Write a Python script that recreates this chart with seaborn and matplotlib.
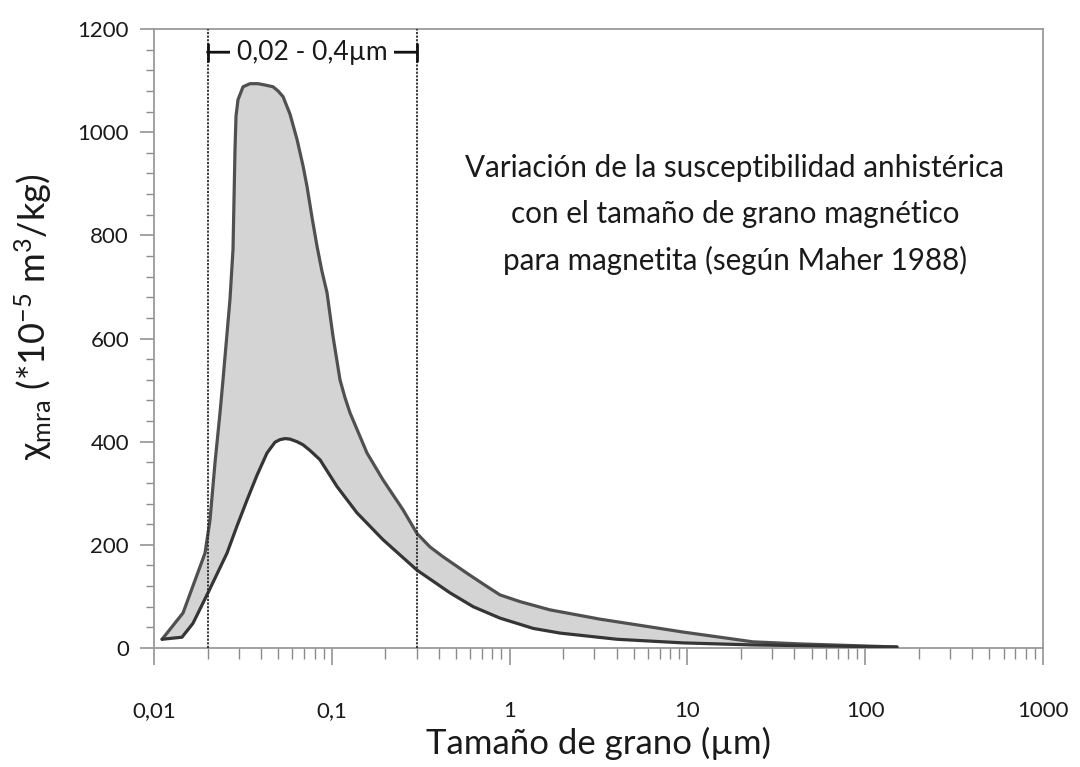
import matplotlib
matplotlib.use("Agg")
import matplotlib.pyplot as plt
import seaborn as sns
import numpy as np

# Grain size (µm) and anhysteretic susceptibility (*10^-5 m^3/kg) for magnetite
upper_size = [0.0111, 0.01456, 0.01936, 0.02065, 0.02203, 0.02351, 0.02444,
              0.02675, 0.02782, 0.02855, 0.02892, 0.02968, 0.03168, 0.03467,
              0.03846, 0.04266, 0.0467, 0.0498, 0.05316, 0.0582, 0.06373,
              0.06887, 0.07253, 0.07738, 0.08257, 0.08808, 0.09397, 0.1016,
              0.1112, 0.1187, 0.1266, 0.1578, 0.1941, 0.2515, 0.3015, 0.3567,
              0.4221, 0.576, 0.7112, 0.8831, 1.1445, 1.688, 3.225, 6.162, 9.447,
              15.26, 23.39, 42.98, 151]
upper_chi = [17, 68, 184, 248, 359, 456, 520,
             676, 773, 967, 1031, 1063, 1088, 1094,
             1094, 1091, 1088, 1080, 1069, 1035, 986,
             935, 895, 835, 779, 730, 689, 604,
             520, 485, 456, 378, 326, 268, 222, 196,
             177, 145, 124, 103, 90, 74, 56, 41, 31,
             21, 12, 8, 2]

lower_size = [0.0111, 0.01437, 0.01657, 0.02012, 0.02574, 0.02918, 0.03336,
              0.03796, 0.0432, 0.04791, 0.05112, 0.05456, 0.0582, 0.06373,
              0.06887, 0.07542, 0.08584, 0.107, 0.1386, 0.1941, 0.3015, 0.4622,
              0.6252, 0.8831, 1.36, 1.921, 4.018, 9.447, 23.39, 151]
lower_chi = [17, 21, 48, 107, 184, 235, 287,
             335, 378, 399, 404, 406, 405, 400,
             394, 383, 365, 313, 262, 210, 151, 107,
             80, 58, 38, 29, 17, 10, 6, 2]

# Single-domain size range marked on the plot
range_lo, range_hi = 0.02, 0.3
range_label = "0,02 - 0,4µm"

x_ticks = [0.01, 0.1, 1, 10, 100, 1000]
x_ticklabels = ["0,01", "0,1", "1", "10", "100", "1000"]
y_ticks = [0, 200, 400, 600, 800, 1000, 1200]

note = ("Variación de la susceptibilidad anhistérica\n"
        "con el tamaño de grano magnético\n"
        "para magnetita (según Maher 1988)")

sns.set_theme(style="white")
plt.rcParams["font.family"] = ["Lato", "DejaVu Sans"]
plt.rcParams["mathtext.fontset"] = "custom"
plt.rcParams["mathtext.rm"] = "Lato"
plt.rcParams["mathtext.it"] = "Lato:italic"
plt.rcParams["mathtext.bf"] = "Lato:bold"

fig = plt.figure(figsize=(10.8, 7.67), dpi=100)
ax = fig.add_axes([0.1426, 0.1551, 0.8231, 0.8071])
ax.set_xscale("log")

# Shaded band between the two bounding curves
band_x = list(upper_size) + list(lower_size[::-1])
band_y = list(upper_chi) + list(lower_chi[::-1])
ax.fill(band_x, band_y, color="#d4d4d4", lw=0, zorder=2)

sns.lineplot(x=upper_size, y=upper_chi, ax=ax, color="#505050", lw=2.3,
             estimator=None, sort=False, zorder=3)
sns.lineplot(x=lower_size, y=lower_chi, ax=ax, color="#353535", lw=2.3,
             estimator=None, sort=False, zorder=3)
for line in ax.lines:
    line.set_solid_joinstyle("round")
    line.set_solid_capstyle("round")

# Dotted limits of the size range
for v in (range_lo, range_hi):
    ax.axvline(v, color="#2a2a2a", lw=1.3, ls=(0, (1.2, 0.8)), zorder=4)

bracket_y = 1155
ax.annotate("", xy=(range_lo, bracket_y), xytext=(range_hi, bracket_y),
            arrowprops=dict(arrowstyle="|-|,widthA=0.5,widthB=0.5",
                            lw=2.0, color="#111111", shrinkA=0, shrinkB=0),
            zorder=5)
ax.text(np.sqrt(range_lo * range_hi), bracket_y, range_label, ha="center",
        va="center", fontsize=19, color="#1a1a1a", zorder=6,
        bbox=dict(boxstyle="square,pad=0.25", fc="white", ec="none"))

ax.text(0.6535, 0.70, note, transform=ax.transAxes, ha="center", va="center",
        fontsize=21.3, color="#1a1a1a", linespacing=1.75)

ax.set_xlim(0.01, 1000)
ax.set_ylim(0, 1200)
ax.set_xticks(x_ticks)
ax.set_xticklabels(x_ticklabels)
ax.set_yticks(y_ticks)
ax.xaxis.set_minor_locator(matplotlib.ticker.LogLocator(base=10, subs=np.arange(2, 10)))
ax.xaxis.set_minor_formatter(matplotlib.ticker.NullFormatter())
ax.yaxis.set_minor_locator(matplotlib.ticker.MultipleLocator(40))

ax.tick_params(axis="x", which="major", direction="out", length=12, width=1.1,
               color="#8a8a8a", pad=26, labelsize=16, labelcolor="#1a1a1a")
ax.tick_params(axis="x", which="minor", direction="out", length=8, width=1.0,
               color="#8a8a8a")
ax.tick_params(axis="y", which="major", direction="out", length=10, width=1.1,
               color="#8a8a8a", pad=8, labelsize=16, labelcolor="#1a1a1a")
ax.tick_params(axis="y", which="minor", direction="out", length=6, width=1.0,
               color="#8a8a8a")
ax.tick_params(bottom=True, left=True, which="both")

for side in ("left", "right", "top", "bottom"):
    ax.spines[side].set_visible(True)
    ax.spines[side].set_color("#9a9a9a")
    ax.spines[side].set_linewidth(1.3)

ax.set_xlabel("Tamaño de grano (µm)", fontsize=25, color="#1a1a1a", labelpad=4)
ax.set_ylabel(r"χ$_{\mathrm{mra}}$ (*10$^{\mathrm{-5}}$ m$^{\mathrm{3}}$/kg)",
              fontsize=26, color="#1a1a1a")
ax.yaxis.set_label_coords(-0.112, 0.535)

fig.savefig("out.png", dpi=100, facecolor="white")
